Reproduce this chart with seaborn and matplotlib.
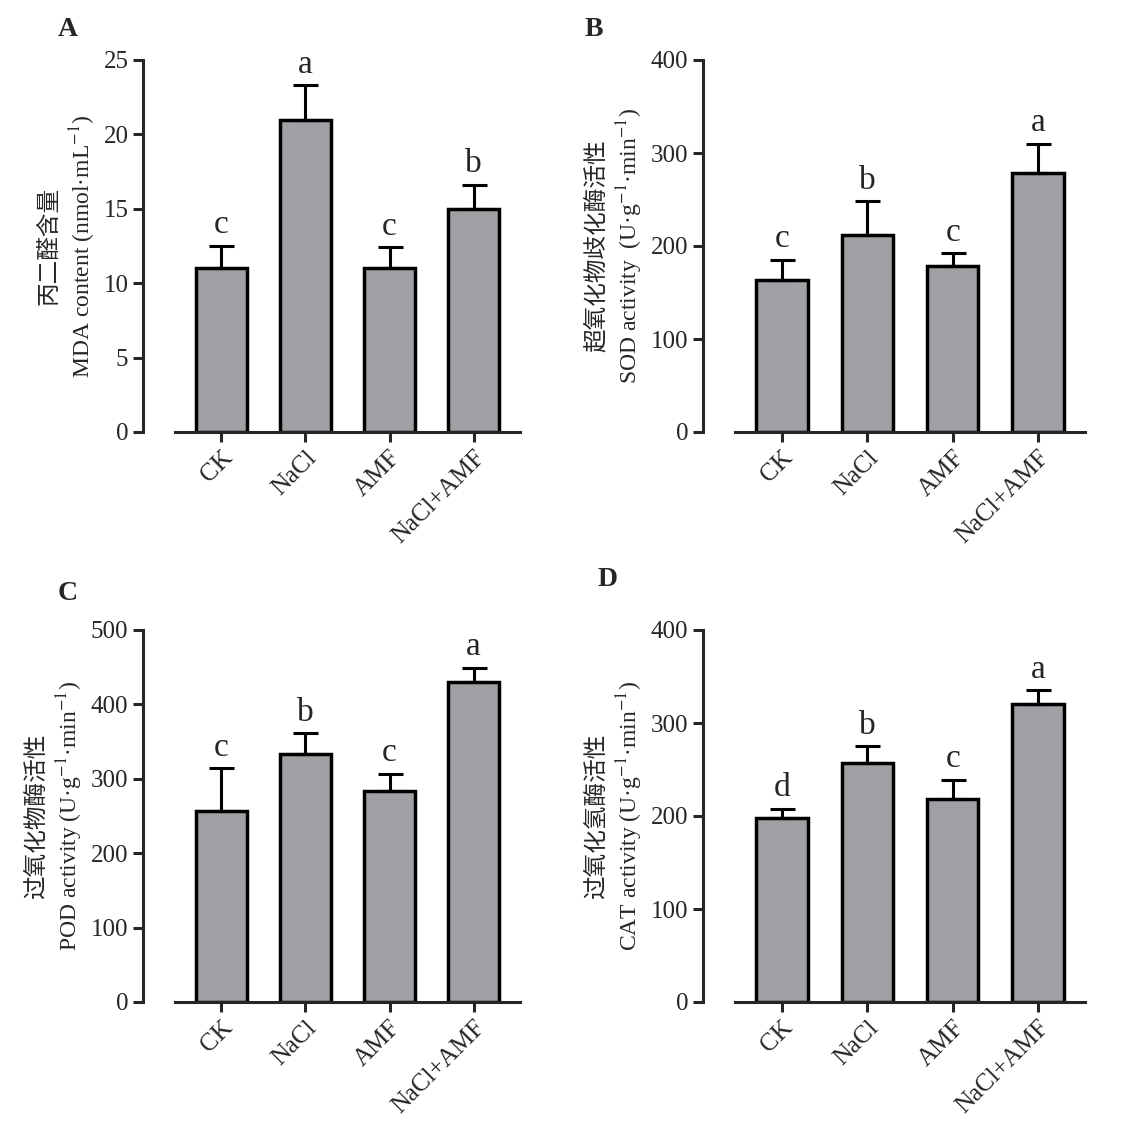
import numpy as np
import pandas as pd
import matplotlib
matplotlib.use("Agg")
import matplotlib.pyplot as plt
import seaborn as sns

groups = ["CK", "NaCl", "AMF", "NaCl+AMF"]

mda_mean = [11.0, 21.0, 11.0, 15.0]
mda_err = [1.5, 2.3, 1.4, 1.6]
mda_sig = ["c", "a", "c", "b"]

sod_mean = [163, 212, 179, 279]
sod_err = [22, 36, 13, 31]
sod_sig = ["c", "b", "c", "a"]

pod_mean = [257, 334, 283, 430]
pod_err = [57, 27, 24, 19]
pod_sig = ["c", "b", "c", "a"]

cat_mean = [198, 257, 218, 320]
cat_err = [10, 18, 21, 15]
cat_sig = ["d", "b", "c", "a"]

sns.set_style("ticks")
plt.rcParams['font.family'] = ['Liberation Serif', 'Noto Sans CJK SC']
plt.rcParams['mathtext.fontset'] = 'stix'

fig = plt.figure(figsize=(11.25, 11.47), dpi=100)
W, H = 1125, 1147


def panel(rect_px, letter, mean, err, sig, ymax, ystep, ylabel, letter_pos):
    l, t, r, b = rect_px
    ax = fig.add_axes([l / W, 1 - b / H, (r - l) / W, (b - t) / H])
    df = pd.DataFrame({"group": groups, "value": mean})
    sns.barplot(data=df, x="group", y="value", ax=ax, color="#A0A0A4",
                edgecolor="black", linewidth=2.5, width=0.6, saturation=1)
    ax.errorbar(range(4), mean, yerr=[np.zeros(4), err], fmt="none",
                ecolor="black", elinewidth=2.2, capsize=9, capthick=2.2)
    for i, (m, e, s) in enumerate(zip(mean, err, sig)):
        ax.text(i, m + e + ymax * 0.015, s, ha="center", va="bottom", fontsize=24)
    ax.set_ylim(0, ymax)
    ax.set_xlim(-0.55, 3.55)
    ax.set_yticks(np.arange(0, ymax + 1, ystep))
    ax.set_xlabel("")
    ax.set_ylabel(ylabel, fontsize=17, linespacing=1.3)
    sns.despine(ax=ax)
    ax.spines['left'].set_position(('outward', 23))
    for sp in ['left', 'bottom']:
        ax.spines[sp].set_linewidth(2.2)
    ax.tick_params(width=2.2, length=7, labelsize=18)
    plt.setp(ax.get_xticklabels(), rotation=45, ha="right", rotation_mode="anchor")
    fig.text(letter_pos[0] / W, 1 - letter_pos[1] / H, letter, fontsize=20,
             fontweight="bold", ha="left", va="center")
    return ax


panel((175, 60, 520, 432), "A", mda_mean, mda_err, mda_sig, 25, 5,
      "丙二醛含量\nMDA content (nmol·mL$^{-1}$)", (58, 30))
panel((735, 60, 1085, 432), "B", sod_mean, sod_err, sod_sig, 400, 100,
      "超氧化物歧化酶活性\nSOD activity  (U·g$^{-1}$·min$^{-1}$)", (585, 30))
panel((175, 630, 520, 1002), "C", pod_mean, pod_err, pod_sig, 500, 100,
      "过氧化物酶活性\nPOD activity (U·g$^{-1}$·min$^{-1}$)", (58, 593))
panel((735, 630, 1085, 1002), "D", cat_mean, cat_err, cat_sig, 400, 100,
      "过氧化氢酶活性\nCAT activity (U·g$^{-1}$·min$^{-1}$)", (598, 580))

fig.savefig("out.png", dpi=100)
